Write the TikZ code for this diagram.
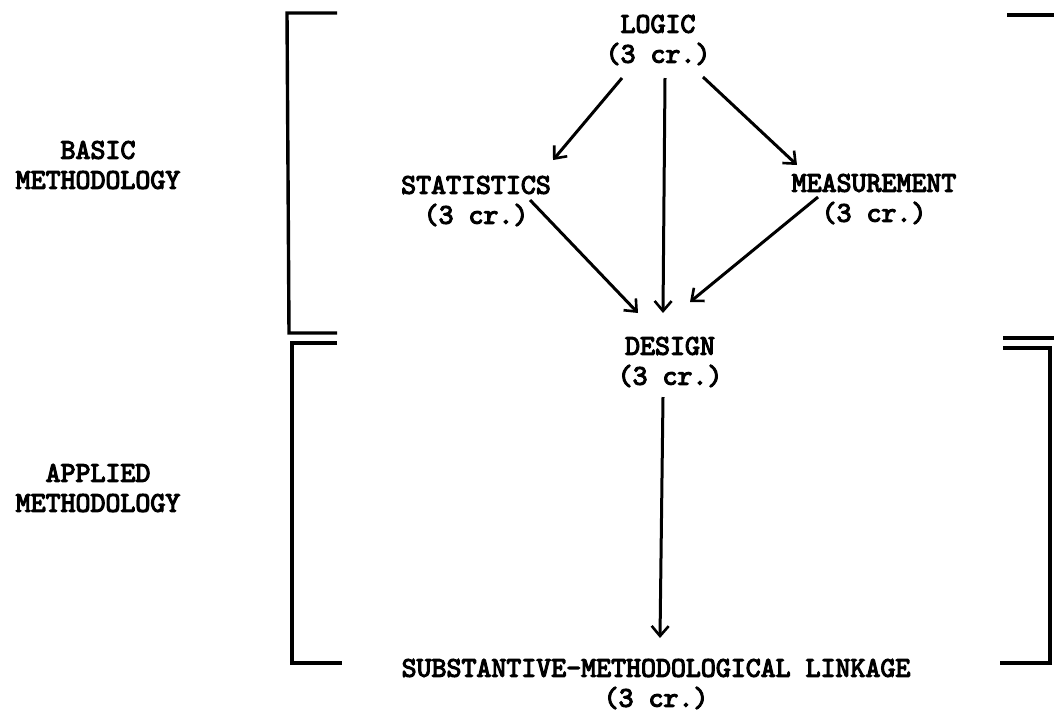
\documentclass[tikz,border=0pt]{standalone}
\usepackage{fontspec}
\newfontfamily\tw{lmmono10-regular}[Extension=.otf, FakeBold=4]
\usetikzlibrary{arrows.meta,calc}
\tikzset{
  lbl/.style={font=\tw\fontsize{28.5}{30}\selectfont, align=center, inner sep=0pt, text=black},
  arr/.style={line width=3pt, -{Straight Barb[length=10pt,width=17pt,line width=2.6pt]}},
  brk/.style={line width=3.4pt, line cap=butt, line join=miter}
}
\begin{document}
\begin{tikzpicture}[x=1pt,y=-1pt]
\useasboundingbox (0,0) rectangle (1054,713);
\fill[white] (0,0) rectangle (1054,713);
% nodes
\node[lbl] (logic) at (658,40) {LOGIC\\(3 cr.)};
\node[lbl] (stats) at (476,201) {STATISTICS\\(3 cr.)};
\node[lbl] (meas) at (874,199) {MEASUREMENT\\(3 cr.)};
\node[lbl] (design) at (670,362) {DESIGN\\(3 cr.)};
\node[lbl] (link) at (656,684) {SUBSTANTIVE-METHODOLOGICAL LINKAGE\\(3 cr.)};
\node[lbl] (basic) at (98,165) {BASIC\\METHODOLOGY};
\node[lbl] (applied) at (98,488) {APPLIED\\METHODOLOGY};
% connectors
\draw[arr] ($(logic.center)+(-36,38)$) -- ($(stats.center)+(77,-41)$);
\draw[arr] ($(logic.center)+(7,38)$) -- ($(design.center)+(-7,-49)$);
\draw[arr] ($(logic.center)+(45,37)$) -- ($(meas.center)+(-77,-34)$);
\draw[arr] ($(stats.center)+(54,-1)$) -- ($(design.center)+(-32,-49)$);
\draw[arr] ($(meas.center)+(-56,-2)$) -- ($(design.center)+(20,-60)$);
\draw[arr] ($(design.center)+(-7,35)$) -- ($(link.center)+(4,-46)$);
% brackets
\draw[brk] (337,13) -- (287,13) -- (289,333) -- (337,333);
\draw[brk] (337,343) -- (292,343) -- (292,663) -- (342,663);
\draw[brk] (1007,15) -- (1054,15);
\draw[brk] (1003,338) -- (1054,338);
\draw[brk] (1003,348) -- (1050,348) -- (1050,663) -- (1000,663);
\end{tikzpicture}
\end{document}
